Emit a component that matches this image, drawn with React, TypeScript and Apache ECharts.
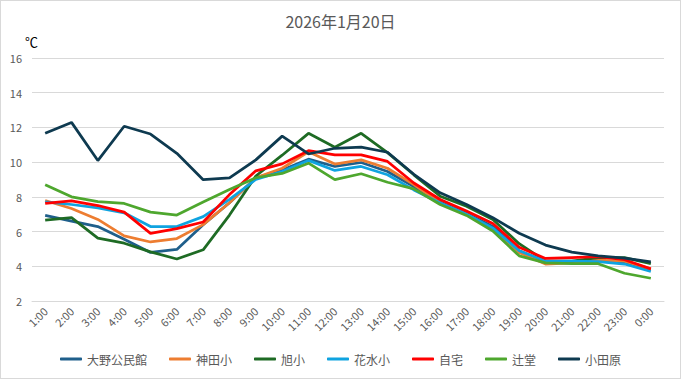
import React, { useEffect, useRef } from "react";
import * as echarts from "echarts";

const hours = ["1:00","2:00","3:00","4:00","5:00","6:00","7:00","8:00","9:00","10:00","11:00","12:00","13:00","14:00","15:00","16:00","17:00","18:00","19:00","20:00","21:00","22:00","23:00","0:00"];

const ono = [6.93, 6.6, 6.29, 5.56, 4.8, 4.97, 6.4, 7.66, 9.1, 9.55, 10.17, 9.75, 9.98, 9.46, 8.6, 7.7, 7.05, 6.3, 4.9, 4.25, 4.25, 4.3, 4.2, 3.8];
const kanda = [7.79, 7.33, 6.7, 5.75, 5.4, 5.6, 6.4, 7.66, 9.1, 9.65, 10.6, 9.89, 10.13, 9.65, 8.7, 7.65, 7.0, 6.15, 4.8, 4.13, 4.2, 4.35, 4.3, 3.85];
const asahi = [6.66, 6.8, 5.62, 5.33, 4.83, 4.42, 4.95, 6.95, 9.2, 10.4, 11.66, 10.86, 11.66, 10.55, 9.27, 8.04, 7.46, 6.7, 5.3, 4.3, 4.3, 4.5, 4.5, 4.15];
const hanamizu = [7.71, 7.56, 7.37, 7.08, 6.29, 6.29, 6.86, 7.85, 9.0, 9.46, 10.1, 9.52, 9.75, 9.27, 8.4, 7.65, 7.0, 6.2, 4.9, 4.3, 4.3, 4.27, 4.13, 3.7];
const home = [7.62, 7.77, 7.5, 7.12, 5.9, 6.17, 6.55, 8.13, 9.5, 9.9, 10.66, 10.42, 10.42, 10.04, 8.8, 7.85, 7.18, 6.47, 5.1, 4.45, 4.5, 4.55, 4.38, 3.85];
const tsujido = [8.7, 8.0, 7.73, 7.62, 7.12, 6.95, 7.7, 8.42, 9.1, 9.35, 9.94, 8.99, 9.33, 8.84, 8.46, 7.56, 6.93, 6.03, 4.6, 4.2, 4.15, 4.15, 3.6, 3.31];
const odawara = [11.66, 12.29, 10.09, 12.07, 11.62, 10.51, 8.99, 9.09, 10.13, 11.5, 10.47, 10.8, 10.86, 10.57, 9.3, 8.23, 7.56, 6.8, 5.9, 5.22, 4.82, 4.6, 4.47, 4.26];

const seriesNames = ["大野公民館", "神田小", "旭小", "花水小", "自宅", "辻堂", "小田原"];
const seriesData = [ono, kanda, asahi, hanamizu, home, tsujido, odawara];
const seriesColors = ["#1f5f8b", "#ed7d31", "#1e6b24", "#0fa3e0", "#ff0000", "#4ea72e", "#0e3a50"];

export default function App() {
  const ref = useRef<HTMLDivElement>(null);
  useEffect(() => {
    document.body.style.margin = "0";
    if (!ref.current) return;
    const chart = echarts.init(ref.current, null, { renderer: "svg" });
    const font = "'Noto Sans CJK JP', 'Noto Sans', sans-serif";
    chart.setOption({
      animation: false,
      backgroundColor: "#ffffff",
      textStyle: { fontFamily: font },
      title: {
        text: "2026年1月20日",
        left: "center",
        top: 7,
        textStyle: { fontSize: 16, fontWeight: "normal", color: "#595959", fontFamily: font },
      },
      graphic: [
        {
          type: "text",
          left: 24,
          top: 34,
          style: { text: "℃", fontSize: 13, fill: "#000000", fontFamily: font },
        },
      ],
      legend: {
        bottom: 8,
        left: "center",
        itemWidth: 22,
        itemHeight: 3,
        itemGap: 22,
        icon: "roundRect",
        textStyle: { fontSize: 12, color: "#595959", fontFamily: font },
        data: seriesNames,
      },
      grid: { left: 31, right: 16, top: 57, bottom: 77 },
      xAxis: {
        type: "category",
        data: hours,
        boundaryGap: true,
        axisLine: { show: true, lineStyle: { color: "#d9d9d9" } },
        axisTick: { show: false },
        axisLabel: { rotate: 45, fontSize: 11, color: "#595959", interval: 0, margin: 8, fontFamily: font },
      },
      yAxis: {
        type: "value",
        min: 2,
        max: 16,
        interval: 2,
        axisLine: { show: false },
        axisTick: { show: false },
        axisLabel: { fontSize: 11, color: "#595959", margin: 10, fontFamily: font },
        splitLine: { lineStyle: { color: "#d9d9d9", width: 1 } },
      },
      series: seriesNames.map((name, i) => ({
        name,
        type: "line",
        data: seriesData[i],
        symbol: "none",
        lineStyle: { width: 2.75, color: seriesColors[i] },
        itemStyle: { color: seriesColors[i] },
      })),
    });
    return () => chart.dispose();
  }, []);
  return (
    <div
      ref={ref}
      style={{ width: 681, height: 379, boxSizing: "border-box", border: "1px solid #d9d9d9" }}
    />
  );
}
